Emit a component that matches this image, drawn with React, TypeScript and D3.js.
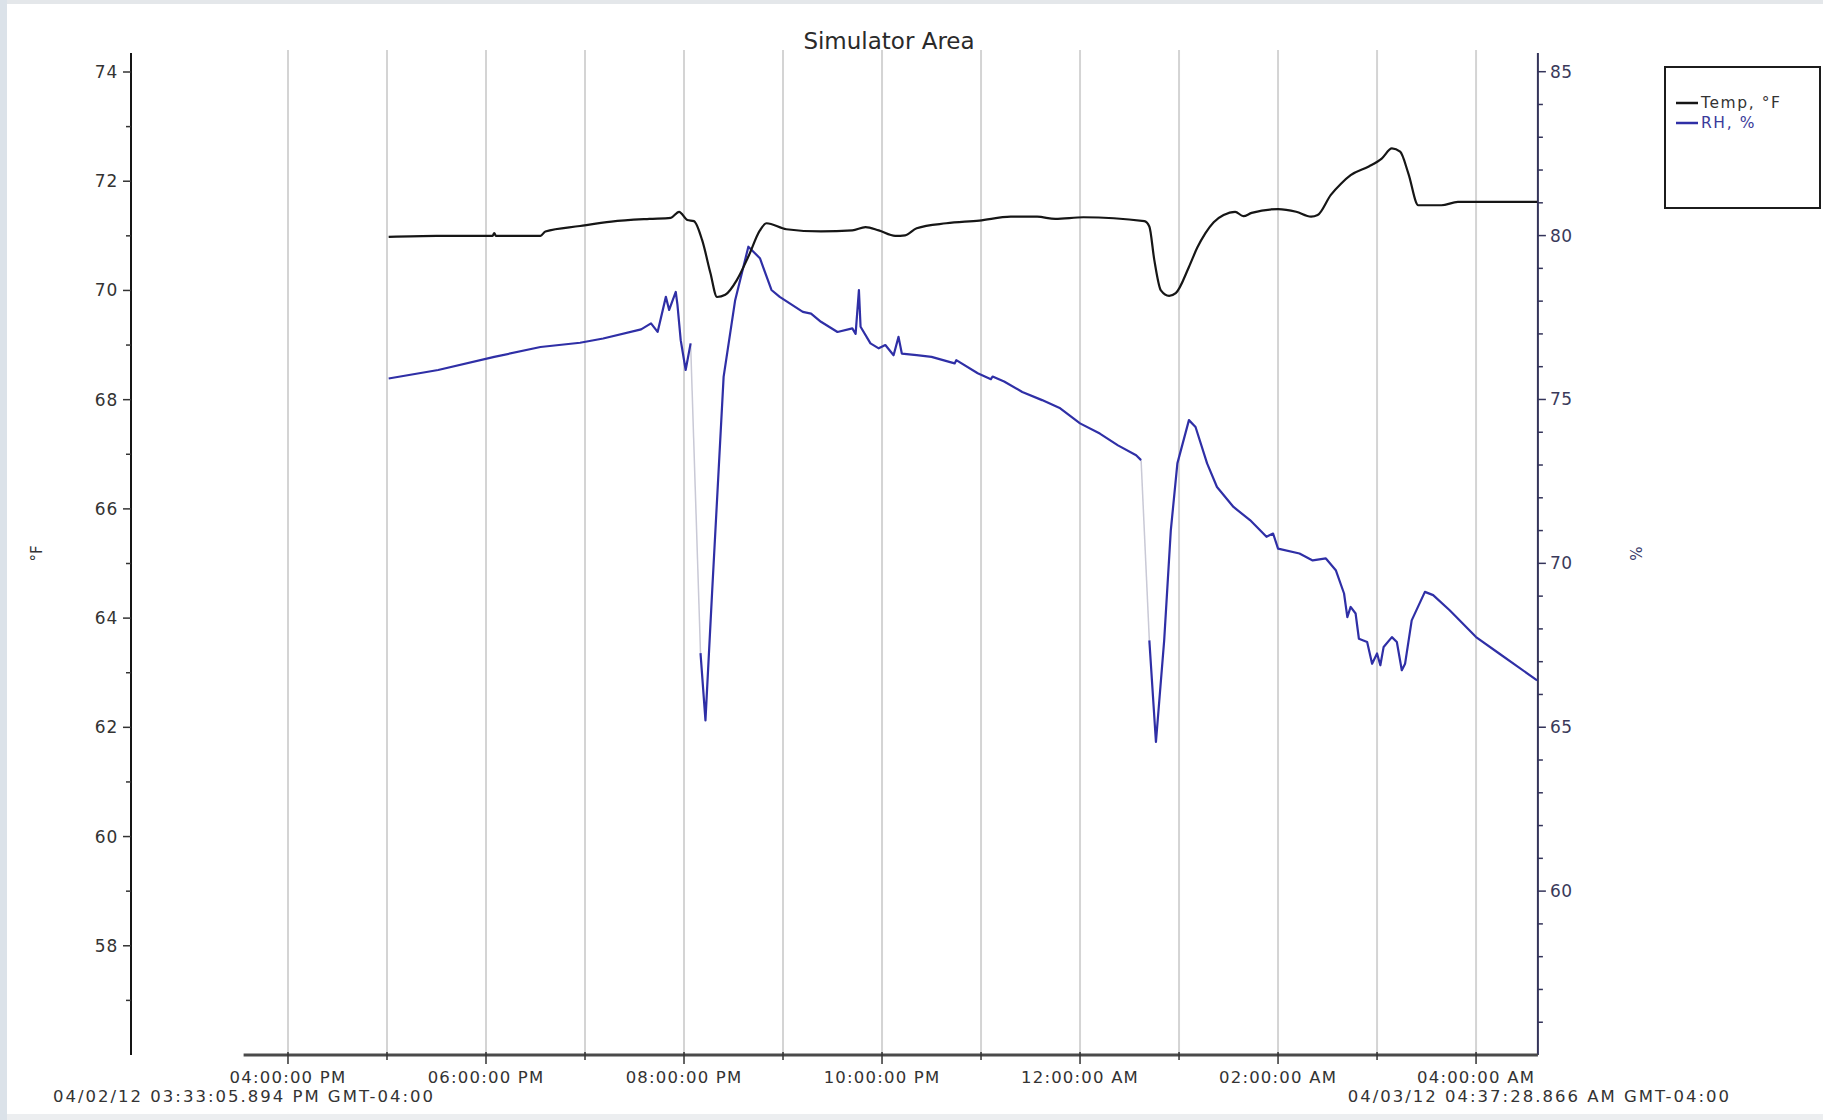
import React from "react";
import * as d3 from "d3";

const W = 1823;
const H = 1120;

const TITLE = "Simulator Area";
const START = "2012-04-02 15:33:05.894";
const END = "2012-04-03 04:37:28.866";
const START_LABEL = "04/02/12 03:33:05.894 PM GMT-04:00";
const END_LABEL = "04/03/12 04:37:28.866 AM GMT-04:00";
const LEFT_LABEL = "°F";
const RIGHT_LABEL = "%";
const SERIES_NAMES = ["Temp, °F", "RH, %"];

const leftMajorTicks = [58, 60, 62, 64, 66, 68, 70, 72, 74];
const leftMinorTicks = [57, 59, 61, 63, 65, 67, 69, 71, 73];
const rightMajorTicks = [60, 65, 70, 75, 80, 85];

const tempTimes = [
  "2012-04-02 17:01", "2012-04-02 17:30", "2012-04-02 18:04", "2012-04-02 18:05", "2012-04-02 18:06",
  "2012-04-02 18:33", "2012-04-02 18:36", "2012-04-02 18:57", "2012-04-02 19:16", "2012-04-02 19:39",
  "2012-04-02 19:52", "2012-04-02 19:57", "2012-04-02 20:02", "2012-04-02 20:06", "2012-04-02 20:11",
  "2012-04-02 20:16", "2012-04-02 20:20", "2012-04-02 20:25", "2012-04-02 20:32", "2012-04-02 20:39",
  "2012-04-02 20:46", "2012-04-02 20:50", "2012-04-02 21:02", "2012-04-02 21:23", "2012-04-02 21:42",
  "2012-04-02 21:50", "2012-04-02 21:58", "2012-04-02 22:08", "2012-04-02 22:14", "2012-04-02 22:21",
  "2012-04-02 22:39", "2012-04-02 22:59", "2012-04-02 23:18", "2012-04-02 23:34", "2012-04-02 23:45",
  "2012-04-03 00:02", "2012-04-03 00:39", "2012-04-03 00:42", "2012-04-03 00:45", "2012-04-03 00:49",
  "2012-04-03 00:54", "2012-04-03 00:58", "2012-04-03 01:06", "2012-04-03 01:11", "2012-04-03 01:16",
  "2012-04-03 01:21", "2012-04-03 01:27", "2012-04-03 01:34", "2012-04-03 01:39", "2012-04-03 01:44",
  "2012-04-03 02:00", "2012-04-03 02:11", "2012-04-03 02:20", "2012-04-03 02:24", "2012-04-03 02:32",
  "2012-04-03 02:38", "2012-04-03 02:44", "2012-04-03 02:55", "2012-04-03 03:03", "2012-04-03 03:09",
  "2012-04-03 03:14", "2012-04-03 03:19", "2012-04-03 03:25", "2012-04-03 03:39", "2012-04-03 03:49",
  "2012-04-03 04:37",
];
const tempValues = [
  70.98, 71.0, 71.0, 71.05, 71.0,
  71.0, 71.08, 71.18, 71.26, 71.31,
  71.33, 71.44, 71.29, 71.27, 70.92,
  70.32, 69.88, 69.92, 70.19, 70.62,
  71.1, 71.23, 71.12, 71.08, 71.1,
  71.16, 71.1, 71.0, 71.01, 71.14,
  71.23, 71.28, 71.35, 71.35, 71.31,
  71.34, 71.27, 71.17, 70.56, 70.0,
  69.9, 69.95, 70.43, 70.78, 71.05,
  71.25, 71.38, 71.44, 71.36, 71.42,
  71.49, 71.44, 71.35, 71.38, 71.75,
  71.95, 72.11, 72.27, 72.42, 72.6,
  72.54, 72.14, 71.56, 71.56, 71.62,
  71.62,
];

const rhTimes = [
  "2012-04-02 17:01", "2012-04-02 17:31", "2012-04-02 18:05", "2012-04-02 18:33", "2012-04-02 18:57",
  "2012-04-02 19:11", "2012-04-02 19:34", "2012-04-02 19:40", "2012-04-02 19:44", "2012-04-02 19:49",
  "2012-04-02 19:51", "2012-04-02 19:55", "2012-04-02 19:56", "2012-04-02 19:58", "2012-04-02 20:01",
  "2012-04-02 20:04", "2012-04-02 20:07", "2012-04-02 20:10", "2012-04-02 20:13", "2012-04-02 20:17",
  "2012-04-02 20:24", "2012-04-02 20:31", "2012-04-02 20:39", "2012-04-02 20:46", "2012-04-02 20:53",
  "2012-04-02 20:58", "2012-04-02 21:05", "2012-04-02 21:12", "2012-04-02 21:17", "2012-04-02 21:23",
  "2012-04-02 21:33", "2012-04-02 21:42", "2012-04-02 21:44", "2012-04-02 21:46", "2012-04-02 21:47",
  "2012-04-02 21:53", "2012-04-02 21:58", "2012-04-02 22:02", "2012-04-02 22:07", "2012-04-02 22:10",
  "2012-04-02 22:12", "2012-04-02 22:21", "2012-04-02 22:30", "2012-04-02 22:44", "2012-04-02 22:45",
  "2012-04-02 22:58", "2012-04-02 23:06", "2012-04-02 23:07", "2012-04-02 23:14", "2012-04-02 23:25",
  "2012-04-02 23:37", "2012-04-02 23:48", "2012-04-03 00:00", "2012-04-03 00:12", "2012-04-03 00:23",
  "2012-04-03 00:34", "2012-04-03 00:37", "2012-04-03 00:40", "2012-04-03 00:42", "2012-04-03 00:46",
  "2012-04-03 00:51", "2012-04-03 00:55", "2012-04-03 00:59", "2012-04-03 01:06", "2012-04-03 01:10",
  "2012-04-03 01:17", "2012-04-03 01:23", "2012-04-03 01:33", "2012-04-03 01:43", "2012-04-03 01:53",
  "2012-04-03 01:57", "2012-04-03 02:00", "2012-04-03 02:13", "2012-04-03 02:21", "2012-04-03 02:29",
  "2012-04-03 02:35", "2012-04-03 02:40", "2012-04-03 02:42", "2012-04-03 02:44", "2012-04-03 02:47",
  "2012-04-03 02:49", "2012-04-03 02:54", "2012-04-03 02:57", "2012-04-03 03:00", "2012-04-03 03:02",
  "2012-04-03 03:04", "2012-04-03 03:09", "2012-04-03 03:12", "2012-04-03 03:15", "2012-04-03 03:17",
  "2012-04-03 03:21", "2012-04-03 03:29", "2012-04-03 03:34", "2012-04-03 03:44", "2012-04-03 04:00",
  "2012-04-03 04:14", "2012-04-03 04:37",
];
const rhValues: (number | null)[] = [
  75.64, 75.9, 76.3, 76.6, 76.73,
  76.86, 77.14, 77.32, 77.06, 78.13,
  77.73, 78.28, 77.9, 76.81, 75.9,
  76.71, null, 67.26, 65.21, 69.09,
  75.69, 78.03, 79.66, 79.31, 78.34,
  78.13, 77.9, 77.67, 77.62, 77.37,
  77.06, 77.17, 77.0, 78.34, 77.22,
  76.71, 76.56, 76.66, 76.35, 76.91,
  76.4, 76.35, 76.3, 76.1, 76.2,
  75.8, 75.62, 75.7, 75.55, 75.23,
  74.98, 74.73, 74.27, 73.96, 73.6,
  73.3, 73.15, null, 67.65, 64.55,
  67.65, 71.0, 73.05, 74.37, 74.16,
  73.05, 72.33, 71.72, 71.32, 70.81,
  70.91, 70.45, 70.3, 70.09, 70.15,
  69.79, 69.08, 68.36, 68.67, 68.47,
  67.7, 67.6, 66.94, 67.25, 66.89,
  67.45, 67.75, 67.6, 66.74, 66.94,
  68.26, 69.13, 69.03, 68.57, 67.75,
  67.25, 66.43,
];

const FONT = "'DejaVu Sans', 'Liberation Sans', sans-serif";
const TEMP_COLOR = "#161616";
const RH_COLOR = "#2f2fa6";

type Pt = [Date, number | null];

export default function App() {
  const parseMin = d3.timeParse("%Y-%m-%d %H:%M");
  const parseMs = d3.timeParse("%Y-%m-%d %H:%M:%S.%L");
  const t0 = parseMs(START) as Date;
  const t1 = parseMs(END) as Date;

  const x = d3.scaleTime().domain([t0, t1]).range([243.6, 1537.9]);
  const yL = d3.scaleLinear().domain([56, 74]).range([1055, 72]);
  const yR = d3.scaleLinear().domain([55, 85]).range([1055, 71.7]);

  const tempData: Pt[] = tempTimes.map((t, i) => [parseMin(t) as Date, tempValues[i]]);
  const rhData: Pt[] = rhTimes.map((t, i) => [parseMin(t) as Date, rhValues[i]]);

  const tempLine = d3
    .line<Pt>()
    .defined((d) => d[1] != null)
    .x((d) => x(d[0]))
    .y((d) => yL(d[1] as number))
    .curve(d3.curveMonotoneX);
  const rhLine = d3
    .line<Pt>()
    .defined((d) => d[1] != null)
    .x((d) => x(d[0]))
    .y((d) => yR(d[1] as number));

  const gaps: Pt[][] = [];
  rhData.forEach((d, i) => {
    if (d[1] == null) {
      let a = i - 1;
      let b = i + 1;
      while (a >= 0 && rhData[a][1] == null) a--;
      while (b < rhData.length && rhData[b][1] == null) b++;
      if (a >= 0 && b < rhData.length) gaps.push([rhData[a], rhData[b]]);
    }
  });
  const gapLine = d3
    .line<Pt>()
    .x((d) => x(d[0]))
    .y((d) => yR(d[1] as number));

  const hours = d3.timeHour.range(t0, t1);
  const fmt = d3.timeFormat("%I:%M:%S %p");

  const rightMinor = d3.range(56, 85).filter((v) => v % 5 !== 0);
  const plotTop = 52;
  const plotBottom = 1055;
  const leftX = 131;
  const rightX = x.range()[1];

  return (
    <svg
      width={W}
      height={H}
      viewBox={`0 0 ${W} ${H}`}
      style={{ position: "absolute", left: 0, top: 0, display: "block", background: "#fff" }}
      fontFamily={FONT}
    >
      <rect x={0} y={0} width={W} height={H} fill="#ffffff" />
      <rect x={0} y={0} width={W} height={4} fill="#e4e7ea" />
      <rect x={0} y={1114} width={W} height={6} fill="#eceef0" />
      <rect x={0} y={0} width={7} height={H} fill="#dbe2e9" />

      <text x={889} y={49} textAnchor="middle" fontSize={23} fill="#2a2a2a">
        {TITLE}
      </text>

      {hours.map((h, i) => (
        <line
          key={"g" + i}
          x1={x(h)}
          x2={x(h)}
          y1={plotTop - 2}
          y2={plotBottom}
          stroke="#d4d4d4"
          strokeWidth={2}
        />
      ))}

      <line x1={leftX} x2={leftX} y1={53} y2={plotBottom} stroke="#151515" strokeWidth={2} />
      {leftMajorTicks.map((v) => (
        <g key={"lt" + v}>
          <line x1={leftX - 8} x2={leftX} y1={yL(v)} y2={yL(v)} stroke="#333" strokeWidth={1.5} />
          <text x={leftX - 13} y={yL(v) + 6} textAnchor="end" fontSize={17} fill="#333" letterSpacing={0.8}>
            {v}
          </text>
        </g>
      ))}
      {leftMinorTicks.map((v) => (
        <line key={"lm" + v} x1={leftX - 5} x2={leftX} y1={yL(v)} y2={yL(v)} stroke="#333" strokeWidth={1.5} />
      ))}
      <text
        transform={`translate(42,${(plotTop + plotBottom) / 2}) rotate(-90)`}
        textAnchor="middle"
        fontSize={15}
        fill="#333"
      >
        {LEFT_LABEL}
      </text>

      <line x1={rightX} x2={rightX} y1={53} y2={plotBottom} stroke="#34345a" strokeWidth={2} />
      {rightMajorTicks.map((v) => (
        <g key={"rt" + v}>
          <line x1={rightX} x2={rightX + 8} y1={yR(v)} y2={yR(v)} stroke="#34345a" strokeWidth={1.5} />
          <text x={rightX + 12} y={yR(v) + 6} textAnchor="start" fontSize={17} fill="#3a3a5a" letterSpacing={0.5}>
            {v}
          </text>
        </g>
      ))}
      {rightMinor.map((v) => (
        <line key={"rm" + v} x1={rightX} x2={rightX + 5} y1={yR(v)} y2={yR(v)} stroke="#34345a" strokeWidth={1.5} />
      ))}
      <text
        transform={`translate(1630,${(plotTop + plotBottom) / 2}) rotate(90)`}
        textAnchor="middle"
        fontSize={15}
        fill="#3a3a6a"
      >
        {RIGHT_LABEL}
      </text>

      <line x1={x.range()[0]} x2={rightX} y1={plotBottom} y2={plotBottom} stroke="#4a4a4a" strokeWidth={3} />
      {hours.map((h, i) => {
        const major = h.getHours() % 2 === 0;
        return (
          <g key={"bt" + i}>
            <line
              x1={x(h)}
              x2={x(h)}
              y1={plotBottom - 3}
              y2={plotBottom + (major ? 9 : 5)}
              stroke="#333"
              strokeWidth={1.5}
            />
            {major && (
              <text x={x(h)} y={1083} textAnchor="middle" fontSize={16.5} fill="#333" letterSpacing={1.2}>
                {fmt(h)}
              </text>
            )}
          </g>
        );
      })}
      <text x={53} y={1102} textAnchor="start" fontSize={16.5} fill="#333" letterSpacing={2.0}>
        {START_LABEL}
      </text>
      <text x={1731} y={1102} textAnchor="end" fontSize={16.5} fill="#333" letterSpacing={2.0}>
        {END_LABEL}
      </text>

      {gaps.map((g, i) => (
        <path key={"gap" + i} d={gapLine(g) || ""} fill="none" stroke="#c9c9d6" strokeWidth={1.5} />
      ))}
      <path d={rhLine(rhData) || ""} fill="none" stroke={RH_COLOR} strokeWidth={2.2} strokeLinejoin="round" />
      <path d={tempLine(tempData) || ""} fill="none" stroke={TEMP_COLOR} strokeWidth={2.2} strokeLinejoin="round" />

      <rect x={1665} y={67} width={155} height={141} fill="#fff" stroke="#1c1c1c" strokeWidth={2} />
      {SERIES_NAMES.map((name, i) => (
        <g key={"lg" + i}>
          <line
            x1={1676}
            x2={1698}
            y1={103 + i * 20}
            y2={103 + i * 20}
            stroke={i === 0 ? TEMP_COLOR : RH_COLOR}
            strokeWidth={2.5}
          />
          <text x={1701} y={108 + i * 20} fontSize={15.5} fill={i === 0 ? "#333" : "#3a3a9a"} letterSpacing={1.6}>
            {name}
          </text>
        </g>
      ))}
    </svg>
  );
}
